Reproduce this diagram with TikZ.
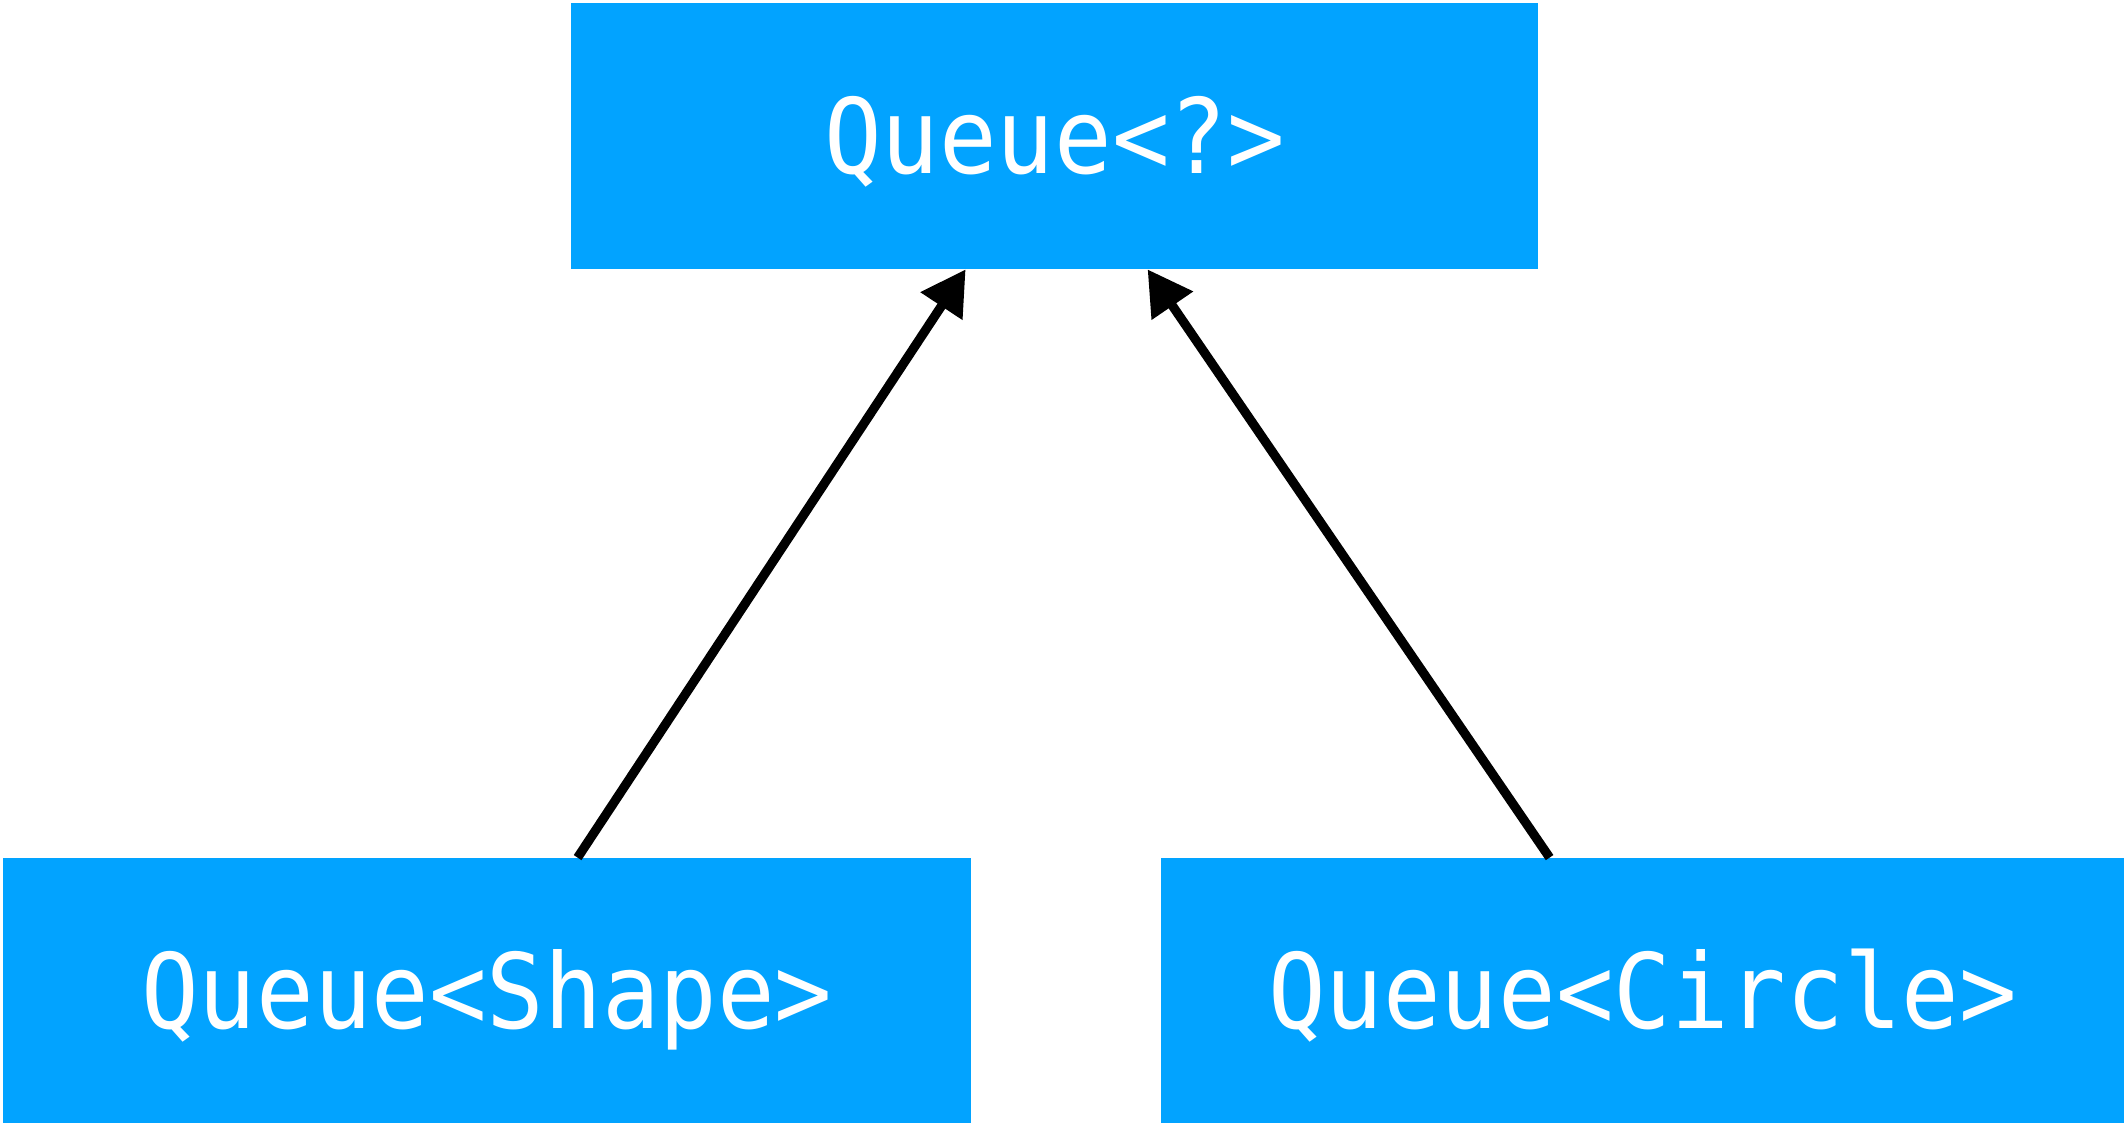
\documentclass[tikz,border=0pt]{standalone}
\usepackage{fontspec}
\usetikzlibrary{arrows.meta,calc}
\newfontfamily\codefont[FakeStretch=0.92]{DejaVu Sans Mono}
\definecolor{boxblue}{RGB}{2,163,255}
\tikzset{
  typebox/.style={rectangle, fill=boxblue, draw=none, inner sep=0pt,
    text=white, font=\codefont\fontsize{52}{60}\selectfont,
    text height=37.9pt, text depth=0pt},
  extends/.style={draw=black, line width=4.6pt,
    -{Triangle[length=22pt,width=24pt]}}
}
\begin{document}
\begin{tikzpicture}[x=0.5pt,y=-0.5pt]
  \useasboundingbox (0,0) rectangle (2124,1123);
  % generic queue and its two instantiations
  \node[typebox, minimum width=483.5pt, minimum height=133pt] (wild) at (1054.5,136) {Queue<?>};
  \node[typebox, minimum width=484pt, minimum height=132.5pt] (shape) at (487,990.5) {Queue<Shape>};
  \node[typebox, minimum width=481.5pt, minimum height=132.5pt] (circle) at (1642.5,990.5) {Queue<Circle>};
  % subtype relations
  \coordinate (shapeTop) at ([xshift=287.5pt]shape.north west);
  \coordinate (circleTop) at ([xshift=194.5pt]circle.north west);
  \coordinate (wildL) at ([xshift=197.5pt]wild.south west);
  \coordinate (wildR) at ([xshift=288.5pt]wild.south west);
  \draw[extends] (shapeTop) -- (wildL);
  \draw[extends] (circleTop) -- (wildR);
\end{tikzpicture}
\end{document}
